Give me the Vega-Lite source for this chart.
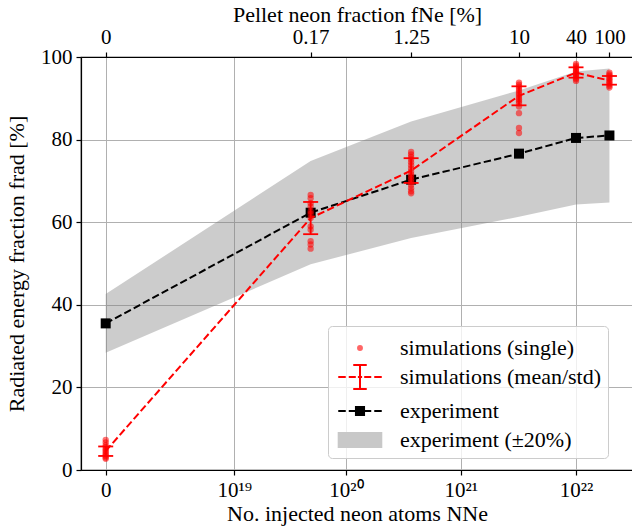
{
  "$schema": "https://vega.github.io/schema/vega-lite/v6.json",
  "autosize": {"type": "none"},
  "padding": {"left": 81, "top": 57, "right": 0, "bottom": 56},
  "width": 552,
  "height": 413,
  "background": "white",
  "config": {
    "font": "Liberation Serif",
    "view": {"stroke": "black", "strokeWidth": 1.2},
    "axis": {
      "domainColor": "black", "domainWidth": 1.2,
      "tickColor": "black", "tickWidth": 1.2, "tickSize": 5,
      "labelColor": "black", "titleColor": "black",
      "labelFontSize": 21, "titleFontSize": 22, "titleFontWeight": "normal",
      "gridColor": "#b0b0b0", "gridWidth": 1, "labelPadding": 4
    },
    "legend": {
      "labelFontSize": 22, "labelColor": "black", "labelFont": "Liberation Serif", "labelLimit": 400
    }
  },
  "datasets": {
    "sims": [
      {"x": 0, "y": 7.3}, {"x": 0, "y": 6.7}, {"x": 0, "y": 6.0}, {"x": 0, "y": 5.5}, {"x": 0, "y": 5.0}, {"x": 0, "y": 4.6}, {"x": 0, "y": 4.2}, {"x": 0, "y": 3.8}, {"x": 0, "y": 3.4}, {"x": 0, "y": 3.0}, {"x": 0, "y": 2.7},
      {"x": 4.9e19, "y": 66.6}, {"x": 4.9e19, "y": 65.8}, {"x": 4.9e19, "y": 64.6}, {"x": 4.9e19, "y": 63.8}, {"x": 4.9e19, "y": 62.6}, {"x": 4.9e19, "y": 62.0}, {"x": 4.9e19, "y": 61.0}, {"x": 4.9e19, "y": 59.0}, {"x": 4.9e19, "y": 58.2}, {"x": 4.9e19, "y": 55.4}, {"x": 4.9e19, "y": 54.6}, {"x": 4.9e19, "y": 53.6},
      {"x": 3.7e20, "y": 77.0}, {"x": 3.7e20, "y": 76.4}, {"x": 3.7e20, "y": 75.8}, {"x": 3.7e20, "y": 75.2}, {"x": 3.7e20, "y": 74.5}, {"x": 3.7e20, "y": 73.8}, {"x": 3.7e20, "y": 73.0}, {"x": 3.7e20, "y": 72.3}, {"x": 3.7e20, "y": 71.6}, {"x": 3.7e20, "y": 71.0}, {"x": 3.7e20, "y": 70.4}, {"x": 3.7e20, "y": 69.7}, {"x": 3.7e20, "y": 69.0}, {"x": 3.7e20, "y": 68.2}, {"x": 3.7e20, "y": 67.5}, {"x": 3.7e20, "y": 67.0},
      {"x": 3.2e21, "y": 93.8}, {"x": 3.2e21, "y": 93.3}, {"x": 3.2e21, "y": 92.8}, {"x": 3.2e21, "y": 92.3}, {"x": 3.2e21, "y": 91.8}, {"x": 3.2e21, "y": 91.3}, {"x": 3.2e21, "y": 90.8}, {"x": 3.2e21, "y": 90.3}, {"x": 3.2e21, "y": 89.8}, {"x": 3.2e21, "y": 89.3}, {"x": 3.2e21, "y": 88.8}, {"x": 3.2e21, "y": 88.0}, {"x": 3.2e21, "y": 86.4}, {"x": 3.2e21, "y": 82.8}, {"x": 3.2e21, "y": 81.6},
      {"x": 1e22, "y": 98.3}, {"x": 1e22, "y": 97.9}, {"x": 1e22, "y": 97.5}, {"x": 1e22, "y": 97.1}, {"x": 1e22, "y": 96.7}, {"x": 1e22, "y": 96.4}, {"x": 1e22, "y": 96.0}, {"x": 1e22, "y": 95.7}, {"x": 1e22, "y": 95.4}, {"x": 1e22, "y": 95.0}, {"x": 1e22, "y": 94.6}, {"x": 1e22, "y": 94.2},
      {"x": 1.95e22, "y": 96.2}, {"x": 1.95e22, "y": 95.8}, {"x": 1.95e22, "y": 95.4}, {"x": 1.95e22, "y": 95.0}, {"x": 1.95e22, "y": 94.6}, {"x": 1.95e22, "y": 94.2}, {"x": 1.95e22, "y": 93.8}, {"x": 1.95e22, "y": 93.4}, {"x": 1.95e22, "y": 93.0}, {"x": 1.95e22, "y": 92.6}
    ],
    "mean": [
      {"x": 0, "y": 4.6, "lo": 3.4, "hi": 5.7},
      {"x": 4.9e19, "y": 61.0, "lo": 57.1, "hi": 64.9},
      {"x": 3.7e20, "y": 72.5, "lo": 69.5, "hi": 75.5},
      {"x": 3.2e21, "y": 90.6, "lo": 88.3, "hi": 92.9},
      {"x": 1e22, "y": 96.2, "lo": 95.0, "hi": 97.5},
      {"x": 1.95e22, "y": 94.3, "lo": 93.3, "hi": 95.4}
    ],
    "exp": [
      {"x": 0, "y": 35.5, "lo": 28.4, "hi": 42.6},
      {"x": 4.9e19, "y": 62.3, "lo": 49.8, "hi": 74.8},
      {"x": 3.7e20, "y": 70.3, "lo": 56.2, "hi": 84.4},
      {"x": 3.2e21, "y": 76.6, "lo": 61.3, "hi": 91.9},
      {"x": 1e22, "y": 80.4, "lo": 64.3, "hi": 96.5},
      {"x": 1.95e22, "y": 81.0, "lo": 64.8, "hi": 97.2}
    ],
    "leg": [
      {"series": "simulations (single)", "x": 0, "y": 50},
      {"series": "simulations (mean/std)", "x": 0, "y": 50},
      {"series": "experiment", "x": 0, "y": 50},
      {"series": "experiment (±20%)", "x": 0, "y": 50}
    ]
  },
  "resolve": {"axis": {"x": "independent"}},
  "layer": [
    {
      "data": {"name": "exp"},
      "mark": {"type": "area", "color": "#808080", "opacity": 0.4},
      "encoding": {
        "x": {"field": "x", "type": "quantitative",
          "scale": {"type": "symlog", "constant": 8.3e17, "domain": [-5.296e17, 3.123e22], "nice": false, "zero": false},
          "axis": {"orient": "bottom", "values": [0, 1e19, 1e20, 1e21, 1e22], "grid": true,
            "labelExpr": "datum.value < 1e18 ? '0' : datum.value < 5e19 ? '10¹⁹' : datum.value < 5e20 ? '10²⁰' : datum.value < 5e21 ? '10²¹' : '10²²'",
            "title": "No. injected neon atoms NNe", "titlePadding": 3}},
        "y": {"field": "lo", "type": "quantitative",
          "scale": {"domain": [0, 100], "nice": false, "zero": false},
          "axis": {"values": [0, 20, 40, 60, 80, 100], "grid": true, "title": "Radiated energy fraction frad [%]", "titlePadding": 12}},
        "y2": {"field": "hi"}
      }
    },
    {
      "data": {"name": "exp"},
      "mark": {"type": "line", "color": "black", "strokeWidth": 2, "strokeDash": [7.4, 3.2]},
      "encoding": {
        "x": {"field": "x", "type": "quantitative",
          "axis": {"orient": "top", "values": [0, 4.9e19, 3.7e20, 3.2e21, 1e22, 1.95e22], "grid": false,
            "labelExpr": "datum.value < 1e18 ? '0' : datum.value < 1e20 ? '0.17' : datum.value < 1e21 ? '1.25' : datum.value < 5e21 ? '10' : datum.value < 1.5e22 ? '40' : '100'",
            "title": "Pellet neon fraction fNe [%]", "titlePadding": 0, "labelPadding": 5}},
        "y": {"field": "y", "type": "quantitative", "axis": {"title": "Radiated energy fraction frad [%]"}}
      }
    },
    {
      "data": {"name": "exp"},
      "mark": {"type": "point", "shape": "square", "filled": true, "color": "black", "size": 100, "opacity": 1},
      "encoding": {
        "x": {"field": "x", "type": "quantitative", "axis": null},
        "y": {"field": "y", "type": "quantitative", "axis": {"title": "Radiated energy fraction frad [%]"}}
      }
    },
    {
      "data": {"name": "sims"},
      "mark": {"type": "point", "shape": "circle", "filled": true, "color": "#ff0000", "size": 40, "opacity": 0.55},
      "encoding": {
        "x": {"field": "x", "type": "quantitative", "axis": null},
        "y": {"field": "y", "type": "quantitative", "axis": {"title": "Radiated energy fraction frad [%]"}}
      }
    },
    {
      "data": {"name": "mean"},
      "mark": {"type": "line", "color": "#ff0000", "strokeWidth": 2, "strokeDash": [7.4, 3.2]},
      "encoding": {
        "x": {"field": "x", "type": "quantitative", "axis": null},
        "y": {"field": "y", "type": "quantitative", "axis": {"title": "Radiated energy fraction frad [%]"}}
      }
    },
    {
      "data": {"name": "mean"},
      "mark": {"type": "rule", "color": "#ff0000", "strokeWidth": 1.8},
      "encoding": {
        "x": {"field": "x", "type": "quantitative", "axis": null},
        "y": {"field": "lo", "type": "quantitative", "axis": {"title": "Radiated energy fraction frad [%]"}},
        "y2": {"field": "hi"}
      }
    },
    {
      "data": {"name": "mean"},
      "mark": {"type": "point", "shape": "stroke", "filled": false, "color": "#ff0000", "strokeWidth": 1.8, "size": 225, "opacity": 1},
      "encoding": {
        "x": {"field": "x", "type": "quantitative", "axis": null},
        "y": {"field": "lo", "type": "quantitative", "axis": {"title": "Radiated energy fraction frad [%]"}}
      }
    },
    {
      "data": {"name": "mean"},
      "mark": {"type": "point", "shape": "stroke", "filled": false, "color": "#ff0000", "strokeWidth": 1.8, "size": 225, "opacity": 1},
      "encoding": {
        "x": {"field": "x", "type": "quantitative", "axis": null},
        "y": {"field": "hi", "type": "quantitative", "axis": {"title": "Radiated energy fraction frad [%]"}}
      }
    },
    {
      "data": {"name": "leg"},
      "mark": {"type": "point", "filled": true, "opacity": 0, "size": 900},
      "encoding": {
        "x": {"field": "x", "type": "quantitative", "axis": null},
        "y": {"field": "y", "type": "quantitative", "axis": {"title": "Radiated energy fraction frad [%]"}},
        "color": {"field": "series", "type": "nominal",
          "scale": {"domain": ["simulations (single)", "simulations (mean/std)", "experiment", "experiment (±20%)"],
                    "range": ["#ff6666", "#ff0000", "#000000", "#c8c8c8"]},
          "legend": {
            "title": null, "orient": "none", "legendX": 247, "legendY": 269,
            "padding": 6, "symbolOffset": 10, "labelOffset": 24, "rowPadding": 2,
            "fillColor": "rgba(255,255,255,0.8)", "strokeColor": "#cccccc", "cornerRadius": 4,
            "symbolSize": 900, "symbolStrokeWidth": 2,
            "encode": {"symbols": {"update": {
              "fill": {"scale": "color", "field": "value"},
              "stroke": {"scale": "color", "field": "value"},
              "opacity": {"value": 1},
              "strokeWidth": {"value": 2}
            }}}
          }},
        "shape": {"field": "series", "type": "nominal",
          "scale": {"domain": ["simulations (single)", "simulations (mean/std)", "experiment", "experiment (±20%)"],
                    "range": [
                      "M0.13,0A0.13,0.13,0,1,1,-0.13,0A0.13,0.13,0,1,1,0.13,0Z",
                      "M-1.45,0H-0.95M-0.75,0H-0.28M-0.14,0H0.14M0.28,0H0.75M0.95,0H1.45M0,-0.8V0.8M-0.45,-0.8H0.45M-0.45,0.8H0.45",
                      "M-1.45,0H-0.95M-0.75,0H-0.3M0.3,0H0.75M0.95,0H1.45M-0.27,-0.27H0.27V0.27H-0.27Z",
                      "M-1.42,-0.47H1.42V0.47H-1.42Z"
                    ]},
          "legend": {"title": null}}
      }
    }
  ]
}
